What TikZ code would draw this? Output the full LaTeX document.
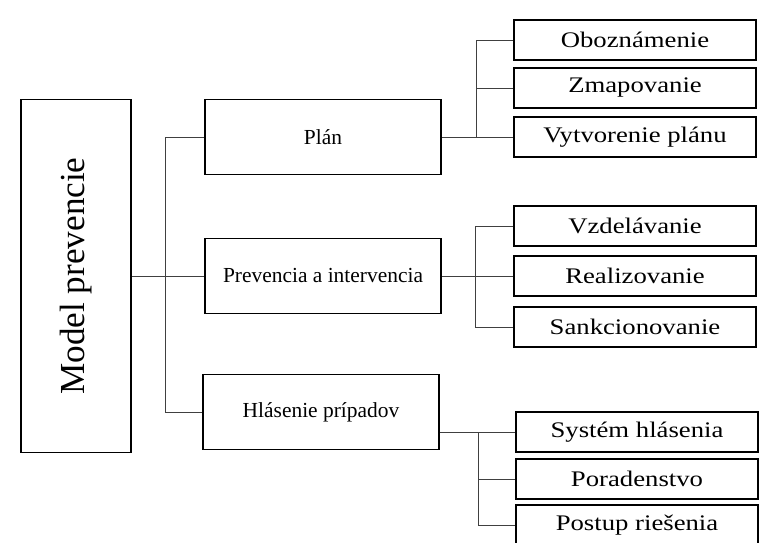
\documentclass[tikz,border=0pt]{standalone}
\usepackage{fontspec}
\setmainfont{Liberation Serif}
\newfontfamily\subfont[FakeStretch=1.2]{Liberation Serif}
\begin{document}
\begin{tikzpicture}[x=0.03cm, y=-0.03cm,
   model_style/.style={draw=black, line width=1.5pt, rotate=90, minimum width=10.59cm, minimum height=3.3cm, inner sep=0pt, font=\fontsize{30}{36}\selectfont},
   box_style/.style={draw=black, line width=1.5pt, minimum width=7.08cm, minimum height=2.25cm, inner sep=0pt, font=\fontsize{18.3}{22}\selectfont},
   sub_style/.style={draw=black, line width=1.5pt, minimum width=7.26cm, minimum height=1.2cm, inner sep=0pt, font=\subfont\fontsize{19}{22}\selectfont},
   line_style/.style={draw=black!75, line width=0.7pt}]

    \useasboundingbox (0,0) rectangle (760,543);

    \node[model_style] (model) at (76,276) {Model prevencie};

    \node[box_style] (plan) at (323,137) {Plán};
    \node[box_style] (prev) at (323,276) {Prevencia a intervencia};
    \node[box_style] (hlas) at (321,412) {Hlásenie prípadov};

    \node[sub_style] (obozn) at (635,40) {Oboznámenie};
    \node[sub_style] (zmap) at (635,88) {Zmapovanie};
    \node[sub_style] (vytv) at (635,137) {Vytvorenie plánu};

    \node[sub_style] (vzdel) at (635,226) {Vzdelávanie};
    \node[sub_style] (realiz) at (635,276) {Realizovanie};
    \node[sub_style] (sankc) at (635,327) {Sankcionovanie};

    \node[sub_style] (system) at (637,432) {Systém hlásenia};
    \node[sub_style] (porad) at (637,479) {Poradenstvo};
    \node[sub_style] (postup) at (637,525) {Postup riešenia};

    % model to the three parts
    \draw[line_style] (model.south) -- (prev.west);
    \draw[line_style] (plan.west) -- ++(-39,0) |- (hlas.west);

    % plan
    \draw[line_style] (plan.east) -- (vytv.west);
    \draw[line_style] (vytv.west) ++(-37,0) |- (obozn.west);
    \draw[line_style] (vytv.west) ++(-37,0) |- (zmap.west);

    % prevencia a intervencia
    \draw[line_style] (prev.east) -- (realiz.west);
    \draw[line_style] (vzdel.west) -- ++(-38,0) |- (sankc.west);

    % hlasenie pripadov
    \draw[line_style] (hlas.east |- system.west) -- (system.west);
    \draw[line_style] (system.west) ++(-37,0) |- (postup.west);
    \draw[line_style] (system.west) ++(-37,0) |- (porad.west);
\end{tikzpicture}
\end{document}
